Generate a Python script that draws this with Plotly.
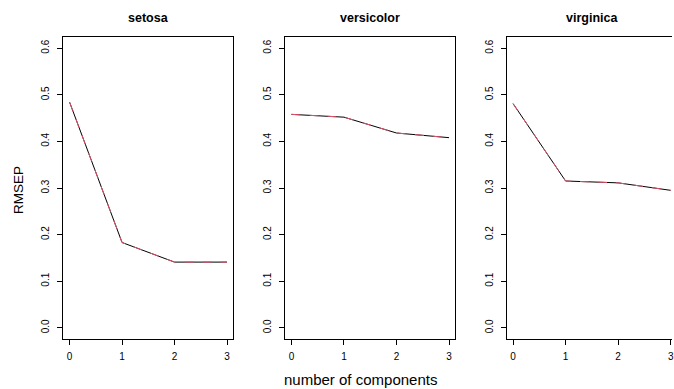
import plotly.graph_objects as go

# RMSEP by number of PLS components, one panel per response
species = ["setosa", "versicolor", "virginica"]
components = [0, 1, 2, 3]
cv = {
    "setosa": [0.484, 0.183, 0.141, 0.141],
    "versicolor": [0.458, 0.452, 0.418, 0.408],
    "virginica": [0.481, 0.315, 0.311, 0.295],
}
adj_cv = {
    "setosa": [0.484, 0.183, 0.141, 0.141],
    "versicolor": [0.458, 0.452, 0.418, 0.408],
    "virginica": [0.481, 0.315, 0.311, 0.295],
}
y_ticks = [0.0, 0.1, 0.2, 0.3, 0.4, 0.5, 0.6]
x_ticks = [0, 1, 2, 3]

W, H = 674, 389
FONT = "Liberation Sans, Arial, Helvetica, sans-serif"

# panel boxes in pixels (left, right); last panel runs off the page edge
panels_px = [(63.5, 234.0), (286.0, 456.7), (508.3, 679.0)]
top_px, bottom_px = 37.0, 339.0
x_lo, x_hi = -0.12, 3.12

fig = go.Figure()
for i, name in enumerate(species):
    left, right = panels_px[i]
    ppu = (right - left) / (x_hi - x_lo)
    right_vis = min(right, W)
    r_hi = x_lo + (right_vis - left) / ppu
    ax = "" if i == 0 else str(i + 1)
    fig.add_trace(go.Scatter(
        x=components, y=cv[name], mode="lines",
        line=dict(color="black", width=1),
        xaxis="x" + ax, yaxis="y" + ax, showlegend=False,
    ))
    fig.add_trace(go.Scatter(
        x=components, y=adj_cv[name], mode="lines",
        line=dict(color="#DF536B", width=1, dash="dash"),
        xaxis="x" + ax, yaxis="y" + ax, showlegend=False,
    ))
    clipped = right > W
    fig.update_layout(**{
        "xaxis" + ax: dict(
            domain=[left / W, right_vis / W], range=[x_lo, r_hi],
            tickvals=x_ticks, ticks="outside", ticklen=5, tickwidth=1,
            tickcolor="black", showline=True, linecolor="black", linewidth=1,
            mirror=True, showgrid=False, zeroline=False,
            ticklabeloverflow="allow", ticklabelstandoff=3,
            tickfont=dict(family=FONT, size=10, color="black"),
            anchor="y" + ax,
        ),
        "yaxis" + ax: dict(
            domain=[1 - bottom_px / H, 1 - top_px / H], range=[-0.024, 0.624],
            tickvals=y_ticks, tickformat=".1f", tickangle=-90,
            ticks="outside", ticklen=5, tickwidth=1, tickcolor="black",
            showline=True, linecolor="black", linewidth=1,
            mirror=not clipped, showgrid=False, zeroline=False,
            ticklabelstandoff=4,
            tickfont=dict(family=FONT, size=10, color="black"),
            anchor="x" + ax,
        ),
    })
    fig.add_annotation(
        x=(left + right) / 2 / W, y=1 - 18 / H, xref="paper", yref="paper",
        text="<b>" + name + "</b>", showarrow=False,
        font=dict(family=FONT, size=12.5, color="black"),
        xanchor="center", yanchor="middle",
    )

fig.add_annotation(
    x=19 / W, y=1 - 190 / H, xref="paper", yref="paper", text="RMSEP",
    textangle=-90, showarrow=False, xanchor="center", yanchor="middle",
    font=dict(family=FONT, size=13.5, color="black"),
)
fig.add_annotation(
    x=362 / W, y=1 - 379 / H, xref="paper", yref="paper",
    text="number of components", showarrow=False,
    xanchor="center", yanchor="middle",
    font=dict(family=FONT, size=15, color="black"),
)

fig.update_layout(
    width=W, height=H, margin=dict(l=0, r=0, t=0, b=0),
    paper_bgcolor="white", plot_bgcolor="white",
)
fig.write_html("out.html")
